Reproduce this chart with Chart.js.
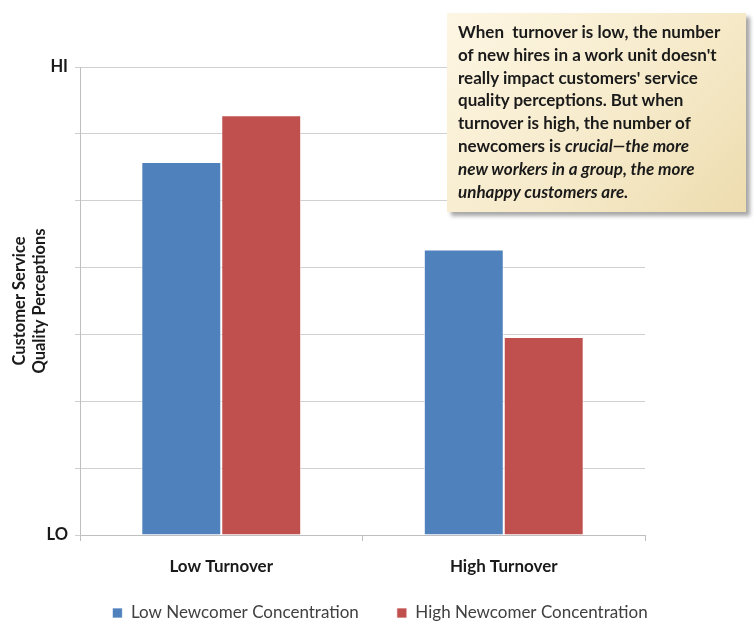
<!DOCTYPE html>
<html>
<head>
<meta charset="utf-8">
<script src="https://cdn.jsdelivr.net/npm/chart.js@4/dist/chart.umd.min.js"></script>
<style>
  html, body { margin: 0; padding: 0; background: #fff; }
  #wrap { position: relative; width: 756px; height: 622px; }
  #note {
    position: absolute; left: 447px; top: 13px; width: 299px; height: 199px;
    box-sizing: border-box; padding: 8px 4px 0 11px;
    background: linear-gradient(135deg, #fdf6e3 0%, #f5e9c8 60%, #eddcae 100%);
    box-shadow: 4px 4px 4px rgba(0,0,0,0.35);
    font-family: Lato, "Open Sans", sans-serif; font-weight: bold; font-size: 17px;
    line-height: 22.8px; color: #1a1a1a; white-space: nowrap;
  }
</style>
</head>
<body>
<div id="wrap">
  <canvas id="c" width="756" height="622"></canvas>
  <div id="note">When&nbsp; turnover is low, the number<br>of new hires in a work unit doesn't<br>really impact customers' service<br>quality perceptions. But when<br>turnover is high, the number of<br>newcomers is <i>crucial—the more<br>new workers in a group, the more<br>unhappy customers are.</i></div>
</div>
<script>
const categories = ['Low Turnover', 'High Turnover'];
const lowNewcomer = [5.58, 4.27];
const highNewcomer = [6.28, 2.96];
const seriesNames = ['Low Newcomer Concentration', 'High Newcomer Concentration'];
const yTickLabels = ['LO', '', '', '', '', '', '', 'HI'];
const yTitle = ['Customer Service', 'Quality Perceptions'];

const FONT = 'Lato, "Open Sans", sans-serif';

// place the legend like the reference (centred on the page, text centre ~613px)
const legendPlacer = {
  id: 'legendPlacer',
  afterLayout(chart) {
    const lg = chart.legend;
    const h = lg.height;
    lg.left = 0; lg.right = 760; lg.width = 760;
    lg.top = 566.5; lg.bottom = lg.top + h;
  }
};

const chart = new Chart(document.getElementById('c'), {
  type: 'bar',
  data: {
    labels: categories,
    datasets: [
      { label: seriesNames[0], data: lowNewcomer, backgroundColor: '#4F81BD', borderColor: 'rgba(255,255,255,0.7)', borderWidth: 1 },
      { label: seriesNames[1], data: highNewcomer, backgroundColor: '#C0504D', borderColor: 'rgba(255,255,255,0.7)', borderWidth: 1 }
    ]
  },
  plugins: [legendPlacer],
  options: {
    responsive: false,
    animation: false,
    layout: { padding: { top: 67, right: 111, left: 0, bottom: -22 } },
    datasets: { bar: { categoryPercentage: 0.566, barPercentage: 1.0 } },
    plugins: {
      tooltip: { enabled: false },
      legend: {
        position: 'bottom',
        labels: {
          font: { family: FONT, size: 17 },
          color: '#404040',
          boxWidth: 10, boxHeight: 10,
          padding: 38
        }
      }
    },
    scales: {
      x: {
        grid: { drawOnChartArea: false, drawTicks: true, tickLength: 6, color: '#bfbfbf', offset: true },
        border: { color: '#bfbfbf' },
        ticks: { font: { family: FONT, size: 17, weight: 'bold' }, color: '#1a1a1a', padding: 15 },
        afterFit: s => { s.height = 44; }
      },
      y: {
        min: 0, max: 7,
        ticks: {
          stepSize: 1,
          font: { family: FONT, size: 16.5, weight: 'bold' }, color: '#1a1a1a',
          padding: 7,
          callback: (v) => yTickLabels[v]
        },
        grid: { color: '#d0d0d0', tickLength: 5 },
        border: { color: '#bfbfbf' },
        title: {
          display: true, text: yTitle,
          font: { family: FONT, size: 16.5, weight: 'bold', lineHeight: 1.2 }, color: '#1a1a1a',
          padding: { top: 10, bottom: 0 }
        },
        afterFit: s => { s.width = 80; }
      }
    }
  }
});
</script>
</body>
</html>
